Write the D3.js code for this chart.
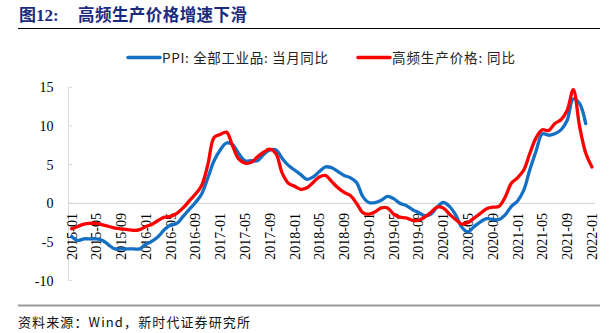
<!DOCTYPE html>
<html><head><meta charset="utf-8">
<script src="https://cdn.jsdelivr.net/npm/d3@7"></script>
<style>
html,body{margin:0;padding:0;background:#fff;}
svg{display:block;}
</style></head>
<body>
<svg id="chart" width="613" height="333"></svg>
<script>
// ---- data ----
const startYear = 2015, startMonth = 1, monthCount = 85; // 2015-01 .. 2022-01
const months = [];
for (let i = 0; i < monthCount; i++) {
  const yy = startYear + Math.floor((startMonth - 1 + i) / 12);
  const mm = (startMonth - 1 + i) % 12 + 1;
  months.push(yy + "-" + String(mm).padStart(2, "0"));
}
const ppiValues = [
  -4.3,-4.8,-4.6,-4.6,-4.6,-4.8,-5.4,-5.9,-5.9,-5.9,-5.9,-5.9,
  -5.3,-4.9,-4.3,-3.4,-2.8,-2.6,-1.7,-0.8,0.1,1.2,3.3,5.5,
  6.9,7.8,7.6,6.4,5.5,5.5,5.5,6.3,6.9,6.9,5.8,4.9,
  4.3,3.7,3.1,3.4,4.1,4.7,4.6,4.1,3.6,3.3,2.7,0.9,
  0.1,0.1,0.4,0.9,0.6,0.0,-0.3,-0.8,-1.2,-1.6,-1.4,-0.5,
  0.1,-0.4,-1.5,-3.1,-3.7,-3.0,-2.4,-2.0,-2.1,-2.1,-1.5,-0.4,
  0.3,1.7,4.4,6.8,9.0,8.8,9.0,9.5,10.7,13.5,12.9,10.3
];
const hfValues = [
  -3.3,-3.0,-2.7,-2.6,-2.6,-2.8,-3.0,-3.2,-3.3,-3.4,-3.5,-3.4,
  -3.0,-2.7,-2.2,-1.8,-1.7,-1.3,-0.6,0.3,1.2,2.3,5.0,8.5,
  8.9,9.2,7.4,5.7,5.2,5.3,6.0,6.6,7.0,6.4,3.9,2.6,
  2.2,1.8,2.0,2.7,3.4,3.6,2.8,2.0,1.4,1.0,0.0,-1.2,
  -1.4,-1.1,-0.6,-0.6,-1.4,-1.8,-1.9,-2.2,-2.2,-1.8,-1.2,-0.5,
  -0.6,-1.4,-2.1,-2.7,-2.5,-1.9,-1.3,-0.7,-0.5,-0.4,0.8,2.6,
  3.3,4.3,6.5,8.5,9.5,9.4,10.3,10.8,12.0,14.7,10.0,6.5,4.7
];
const yTicks = [-10,-5,0,5,10,15];
const seriesNames = ["PPI: 全部工业品: 当月同比", "高频生产价格: 同比"];
const titleLabel = "图12:";
const titleText = "高频生产价格增速下滑";
const sourceText = "资料来源：Wind，新时代证券研究所";

// ---- layout ----
const svg = d3.select("#chart");
const pLeft = 68.5, pRight = 595, pTop = 87.3, pBottom = 280.6;
const x = d3.scalePoint().domain(months).range([pLeft, pRight]).padding(0.5);
const y = d3.scaleLinear().domain([-10, 15]).range([pBottom, pTop]);
const blue = "#1470C4", red = "#FF0000";
const serif = "'Liberation Serif','Times New Roman',serif";
const cjk = "'Noto Sans CJK SC','Noto Sans',sans-serif";

// title
svg.append("text").attr("x", 19).attr("y", 21)
  .attr("font-family", "'Liberation Serif','Noto Sans CJK SC',serif").attr("font-weight", "bold").attr("font-size", 17)
  .attr("fill", "#1c2a7d").text(titleLabel);
svg.append("text").attr("x", 78).attr("y", 21)
  .attr("font-family", cjk).attr("font-weight", "bold").attr("font-size", 16.5)
  .attr("fill", "#1c2a7d").attr("textLength", 169).attr("lengthAdjust", "spacing")
  .text(titleText);
svg.append("line").attr("x1", 18).attr("x2", 600).attr("y1", 28.5).attr("y2", 28.5)
  .attr("stroke", "#000").attr("stroke-width", 1.2);

// legend
const legendItems = [
  {name: seriesNames[0], color: blue, x1: 128, x2: 160, tx: 162, tw: 166},
  {name: seriesNames[1], color: red, x1: 358, x2: 390, tx: 392, tw: 123}
];
legendItems.forEach(d => {
  svg.append("line").attr("x1", d.x1).attr("x2", d.x2).attr("y1", 57.5).attr("y2", 57.5)
    .attr("stroke", d.color).attr("stroke-width", 3.5).attr("stroke-linecap", "round");
  svg.append("text").attr("x", d.tx).attr("y", 62.5)
    .attr("font-family", cjk).attr("font-size", 13.5).attr("fill", "#222")
    .attr("textLength", d.tw).attr("lengthAdjust", "spacing").text(d.name);
});

// y axis
svg.append("line").attr("x1", pLeft).attr("x2", pLeft).attr("y1", pTop).attr("y2", pBottom)
  .attr("stroke", "#d9d9d9").attr("stroke-width", 1);
yTicks.forEach(t => {
  svg.append("line").attr("x1", pLeft).attr("x2", pLeft + 4).attr("y1", y(t)).attr("y2", y(t))
    .attr("stroke", "#d9d9d9").attr("stroke-width", 1);
  svg.append("text").attr("x", 53.5).attr("y", y(t)).attr("dy", "0.35em")
    .attr("text-anchor", "end").attr("font-family", serif).attr("font-size", 14)
    .attr("fill", "#000").text(t);
});
// zero line (category axis)
svg.append("line").attr("x1", pLeft).attr("x2", pRight).attr("y1", y(0)).attr("y2", y(0))
  .attr("stroke", "#d9d9d9").attr("stroke-width", 1.2);

// x labels every 4 months
months.forEach((m, i) => {
  if (i % 4 !== 0) return;
  const xp = x(m);
  svg.append("text")
    .attr("transform", `translate(${xp + 5},213) rotate(-90)`)
    .attr("text-anchor", "end").attr("font-family", serif).attr("font-size", 14)
    .attr("fill", "#000").text(m);
});

// lines
const line = d3.line().x((d, i) => x(months[i])).y(d => y(d)).curve(d3.curveCatmullRom.alpha(0.5));
svg.append("path").datum(ppiValues).attr("d", line).attr("fill", "none")
  .attr("stroke", blue).attr("stroke-width", 3.3).attr("stroke-linejoin", "round").attr("stroke-linecap", "round");
svg.append("path").datum(hfValues).attr("d", line).attr("fill", "none")
  .attr("stroke", red).attr("stroke-width", 3.3).attr("stroke-linejoin", "round").attr("stroke-linecap", "round");

// footer
svg.append("line").attr("x1", 18).attr("x2", 600).attr("y1", 305.5).attr("y2", 305.5)
  .attr("stroke", "#9a9a9a").attr("stroke-width", 2);
svg.append("text").attr("x", 18).attr("y", 327)
  .attr("font-family", cjk).attr("font-size", 13).attr("fill", "#111")
  .attr("textLength", 232).attr("lengthAdjust", "spacing").text(sourceText);
</script>
</body></html>
